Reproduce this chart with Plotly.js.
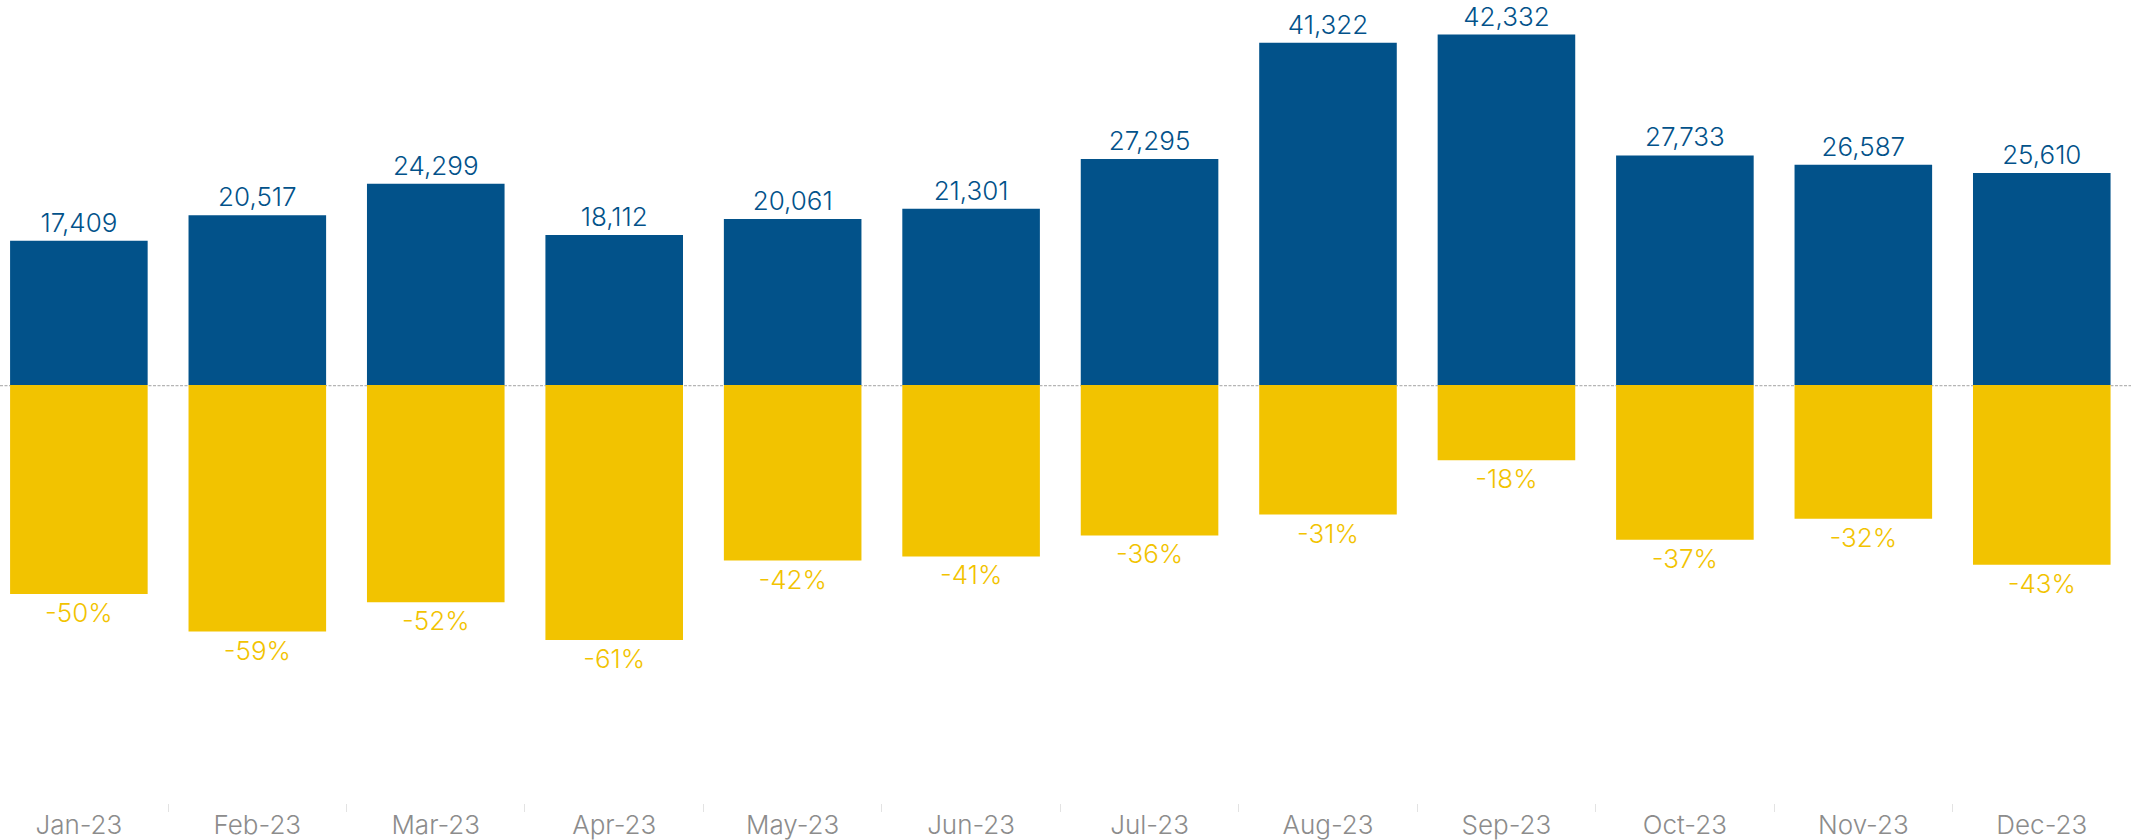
<!DOCTYPE html>
<html>
<head>
<meta charset="utf-8">
<script src="https://cdn.plot.ly/plotly-3.0.1.min.js"></script>
<style>
  html, body { margin: 0; padding: 0; background: #ffffff; }
  #chart { width: 2131px; height: 840px; }
</style>
</head>
<body>
<div id="chart"></div>
<script>
// ---- data ----
const months = ["Jan-23", "Feb-23", "Mar-23", "Apr-23", "May-23", "Jun-23",
                "Jul-23", "Aug-23", "Sep-23", "Oct-23", "Nov-23", "Dec-23"];
const volumes = [17409, 20517, 24299, 18112, 20061, 21301,
                 27295, 41322, 42332, 27733, 26587, 25610];
const changes = [-0.50, -0.59, -0.52, -0.61, -0.42, -0.41,
                 -0.36, -0.31, -0.18, -0.37, -0.32, -0.43];

const BLUE = "#02528A";
const YELLOW = "#F2C300";
const FONT = "Inter, 'Open Sans', 'Liberation Sans', sans-serif";

const volumeText = volumes.map(v => v.toLocaleString("en-US"));
const changeText = changes.map(v => Math.round(v * 100) + "%");

const traces = [
  {
    type: "bar",
    x: months,
    y: volumes,
    xaxis: "x",
    yaxis: "y",
    marker: { color: BLUE },
    text: volumeText,
    texttemplate: "%{text}",
    textposition: "outside",
    constraintext: "none",
    cliponaxis: false,
    textfont: { family: FONT, size: 26, color: BLUE, weight: 300 },
    hoverinfo: "x+y",
    showlegend: false
  },
  {
    type: "bar",
    x: months,
    y: changes,
    xaxis: "x",
    yaxis: "y2",
    marker: { color: YELLOW },
    text: changeText,
    texttemplate: "%{text}",
    textposition: "outside",
    constraintext: "none",
    cliponaxis: false,
    textfont: { family: FONT, size: 26, color: YELLOW, weight: 300 },
    hoverinfo: "x+y",
    showlegend: false
  }
];

const split = (803 - 385) / 803;

const layout = {
  width: 2131,
  height: 840,
  margin: { l: 0, r: 0, t: 0, b: 37, pad: 0 },
  paper_bgcolor: "#ffffff",
  plot_bgcolor: "#ffffff",
  bargap: 0.229,
  showlegend: false,
  font: { family: FONT },
  xaxis: {
    type: "category",
    anchor: "y2",
    range: [-0.442, 11.5],
    showgrid: false,
    zeroline: false,
    showline: false,
    ticks: "outside",
    tickson: "boundaries",
    ticklen: 8,
    tickwidth: 1,
    tickcolor: "#e3e3e3",
    ticklabelstandoff: 4,
    tickfont: { family: FONT, size: 26, color: "#8c8c8c", weight: 300 },
    fixedrange: true
  },
  yaxis: {
    domain: [split, 1],
    anchor: "x",
    range: [0, 46500],
    showgrid: false,
    zeroline: false,
    showline: false,
    showticklabels: false,
    ticks: "",
    fixedrange: true
  },
  yaxis2: {
    domain: [0, split],
    anchor: "x",
    range: [-1, 0],
    showgrid: false,
    zeroline: false,
    showline: false,
    showticklabels: false,
    ticks: "",
    fixedrange: true
  },
  shapes: [
    {
      type: "line",
      layer: "below",
      xref: "paper", yref: "y2",
      x0: 0, x1: 1, y0: 0, y1: 0,
      line: { color: "#b5b5b5", width: 2.5, dash: "3px,1.5px" }
    }
  ]
};

Plotly.newPlot("chart", traces, layout, { displayModeBar: false, staticPlot: true });
</script>
</body>
</html>
